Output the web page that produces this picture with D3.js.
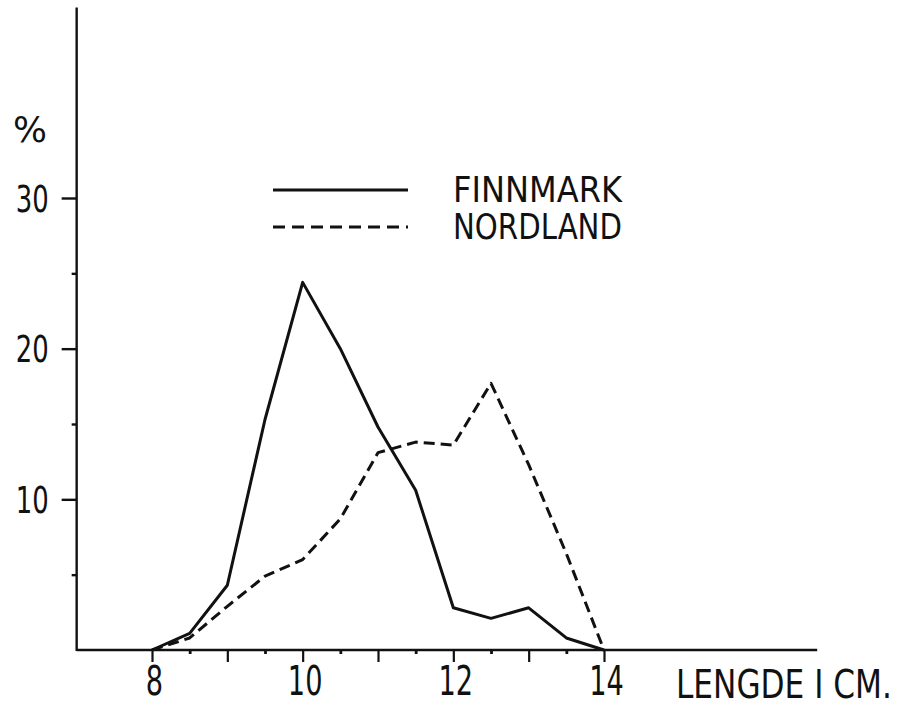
<!DOCTYPE html>
<html>
<head>
<meta charset="utf-8">
<script src="https://cdn.jsdelivr.net/npm/d3@7"></script>
<style>
  html, body { margin: 0; padding: 0; background: #fff; }
  svg { display: block; }
  text { font-family: "DejaVu Sans", sans-serif; fill: #111; }
</style>
</head>
<body>
<svg id="chart" width="903" height="706"></svg>
<script>
// ---- data ----
const lengths = [8, 8.5, 9, 9.5, 10, 10.5, 11, 11.5, 12, 12.5, 13, 13.5, 14];
const finnmark = [0, 1.1, 4.3, 15.3, 24.4, 20.0, 14.8, 10.6, 2.8, 2.1, 2.8, 0.8, 0];
const nordland = [0, 0.8, 2.9, 4.9, 6.0, 8.7, 13.1, 13.8, 13.6, 17.7, 12.3, 6.4, 0];
const yMajorTicks = [10, 20, 30];
const yMinorTicks = [5, 15, 25];
const xMajorTicks = [8, 9, 10, 11, 12, 13, 14];
const xMinorTicks = [8.5, 9.5, 10.5, 11.5, 12.5, 13.5];
const xLabelTicks = [8, 10, 12, 14];
const seriesNames = ["FINNMARK", "NORDLAND"];
const yUnit = "%";
const xTitle = "LENGDE I CM.";

// ---- scales ----
const svg = d3.select("#chart");
const x = d3.scaleLinear().domain([8, 14]).range([152, 604]);
const y = d3.scaleLinear().domain([0, 30]).range([650, 198]);

const ink = "#111";
const xMin = 7, xMax = 16.83, yMax = 42.65;
const narrow = 0.7;

function squeeze(sel, factor) {
  sel.each(function () {
    const w = this.getComputedTextLength();
    d3.select(this).attr("textLength", w * factor).attr("lengthAdjust", "spacingAndGlyphs");
  });
}

// axis lines
svg.append("line").attr("x1", x(xMin)).attr("x2", x(xMin))
  .attr("y1", y(0) + 1).attr("y2", y(yMax))
  .attr("stroke", ink).attr("stroke-width", 2.4);
svg.append("line").attr("x1", x(xMin)).attr("x2", x(xMax))
  .attr("y1", y(0)).attr("y2", y(0))
  .attr("stroke", ink).attr("stroke-width", 2.4);

// y axis ticks
const yAxisMajor = d3.axisLeft(y).tickValues(yMajorTicks).tickSize(15).tickPadding(13).tickSizeOuter(0);
const gy = svg.append("g").attr("transform", `translate(${x(xMin)},0)`).call(yAxisMajor);
gy.select(".domain").remove();
gy.selectAll(".tick line").attr("stroke", ink).attr("stroke-width", 2.4);
gy.selectAll(".tick text").attr("font-size", 37).attr("dy", "0.36em").attr("fill", ink)
  .style("font-family", '"DejaVu Sans", sans-serif');
squeeze(gy.selectAll(".tick text"), narrow);

const yAxisMinor = d3.axisLeft(y).tickValues(yMinorTicks).tickSize(5).tickFormat("");
const gy2 = svg.append("g").attr("transform", `translate(${x(xMin)},0)`).call(yAxisMinor);
gy2.select(".domain").remove();
gy2.selectAll(".tick line").attr("stroke", ink).attr("stroke-width", 2.4);

// x axis ticks
const xAxisMajor = d3.axisBottom(x).tickValues(xMajorTicks).tickSize(12).tickFormat("");
const gx = svg.append("g").attr("transform", `translate(0,${y(0)})`).call(xAxisMajor);
gx.select(".domain").remove();
gx.selectAll(".tick line").attr("stroke", ink).attr("stroke-width", 2.2);

const xAxisMinor = d3.axisBottom(x).tickValues(xMinorTicks).tickSize(4).tickFormat("");
const gx2 = svg.append("g").attr("transform", `translate(0,${y(0)})`).call(xAxisMinor);
gx2.select(".domain").remove();
gx2.selectAll(".tick line").attr("stroke", ink).attr("stroke-width", 2.8);

const xAxisLabels = d3.axisBottom(x).tickValues(xLabelTicks).tickSize(0).tickPadding(17).tickFormat(d3.format("d"));
const gx3 = svg.append("g").attr("transform", `translate(2,${y(0)})`).call(xAxisLabels);
gx3.select(".domain").remove();
gx3.selectAll(".tick text").attr("font-size", 40).attr("fill", ink)
  .style("font-family", '"DejaVu Sans", sans-serif');
squeeze(gx3.selectAll(".tick text"), 0.68);

// unit and title
svg.append("text").attr("x", 30).attr("y", 142).attr("text-anchor", "middle")
  .attr("font-size", 36).attr("textLength", 34).attr("lengthAdjust", "spacingAndGlyphs").text(yUnit);
const titleG = svg.append("g");
const titleT = titleG.append("text").attr("x", 0).attr("y", 0).attr("font-size", 39).text(xTitle);
const tw = titleT.node().getComputedTextLength();
titleG.attr("transform", `translate(676,698) scale(${216 / tw},1)`);

// lines
const line = d3.line().x((d, i) => x(lengths[i])).y(d => y(d));
svg.append("path").datum(finnmark).attr("d", line)
  .attr("fill", "none").attr("stroke", ink).attr("stroke-width", 3)
  .attr("stroke-linejoin", "round");
svg.append("path").datum(nordland).attr("d", line)
  .attr("fill", "none").attr("stroke", ink).attr("stroke-width", 3)
  .attr("stroke-dasharray", "11,6").attr("stroke-linejoin", "round");

// legend
const legend = svg.append("g");
const legY = [190, 227];
const dashes = [null, "12,7"];
seriesNames.forEach((name, i) => {
  legend.append("line").attr("x1", 273).attr("x2", 408)
    .attr("y1", legY[i]).attr("y2", legY[i])
    .attr("stroke", ink).attr("stroke-width", 2.8)
    .attr("stroke-dasharray", dashes[i]);
  legend.append("text").attr("x", 453).attr("y", legY[i] + 12)
    .attr("font-size", 36).attr("textLength", 169).attr("lengthAdjust", "spacingAndGlyphs").text(name);
});
</script>
</body>
</html>
